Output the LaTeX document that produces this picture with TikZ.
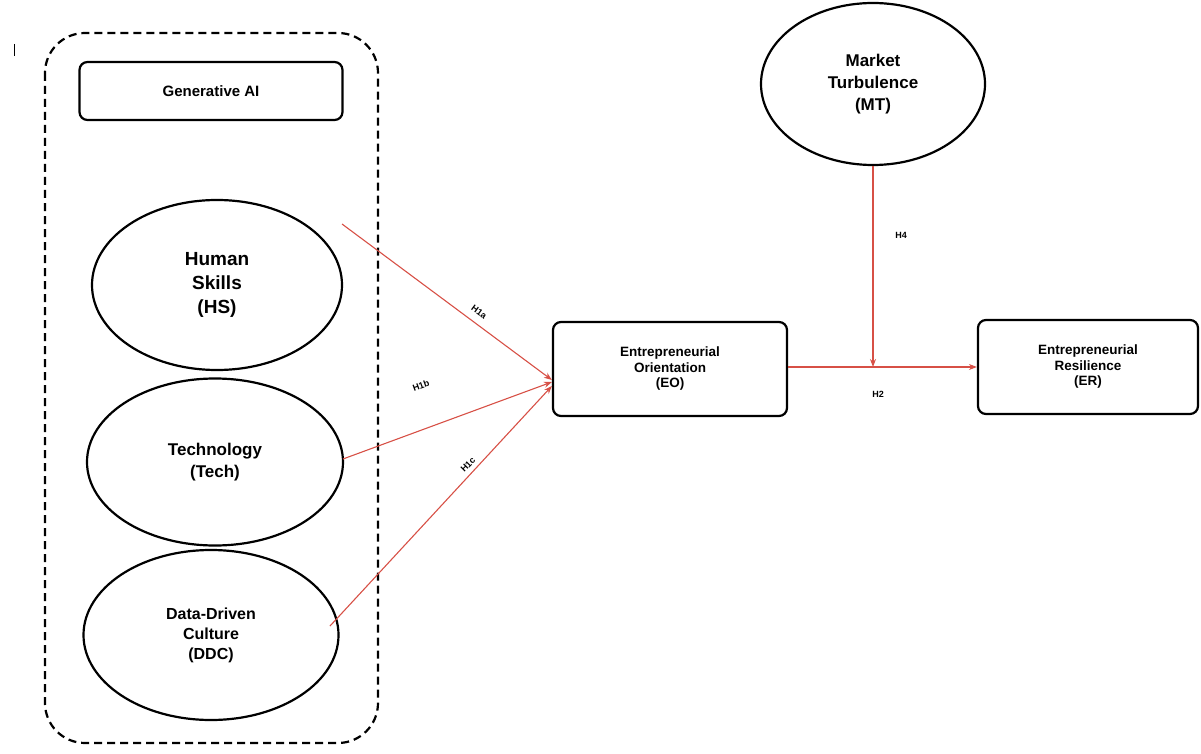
\documentclass[tikz,border=0pt]{standalone}
\usepackage{fontspec}
\setmainfont{Liberation Sans}
\usetikzlibrary{shapes.geometric,arrows.meta}
\definecolor{arr}{RGB}{215,80,70}
\begin{document}
\begin{tikzpicture}[x=1pt,y=-1pt,
  ell/.style={draw,line width=2.2pt,ellipse,align=center,font=\bfseries},
  box/.style={draw,line width=2.2pt,rounded corners=8pt,align=center,font=\bfseries\fontsize{13.5}{15.5}\selectfont},
  con/.style={draw=arr,line width=1.1pt,-{Stealth[length=8pt,width=6pt]}},
  lab/.style={font=\bfseries\fontsize{9}{10}\selectfont}]
\useasboundingbox (0,0) rectangle (1201,754);
\draw[line width=0.6pt] (14,44) -- (14,56);
\draw[line width=2.2pt,dash pattern=on 8pt off 5pt,rounded corners=40pt] (45,33) rectangle (378,743);
\node[box,minimum width=263pt,minimum height=58pt,font=\bfseries\fontsize{15}{17}\selectfont] (gai) at (211,91) {Generative AI};
\node[ell,minimum width=250pt,minimum height=170pt,font=\bfseries\fontsize{19}{24}\selectfont] (hs) at (217,285) {Human\\Skills\\ (HS)};
\node[ell,minimum width=256pt,minimum height=167pt,font=\bfseries\fontsize{17}{22}\selectfont] (tech) at (215,462) {Technology\\(Tech)};
\node[ell,minimum width=255pt,minimum height=170pt,font=\bfseries\fontsize{16}{20}\selectfont] (ddc) at (211,635) {Data-Driven\\Culture\\(DDC)};
\node[box,minimum width=234pt,minimum height=94pt] (eo) at (670,369) {Entrepreneurial\\Orientation\\(EO)};
\node[box,minimum width=220pt,minimum height=94pt] (er) at (1088,367) {Entrepreneurial\\Resilience\\(ER)};
\node[ell,minimum width=224pt,minimum height=162pt,font=\bfseries\fontsize{17}{22}\selectfont] (mt) at (873,84) {Market\\Turbulence\\(MT)};
\coordinate (j) at (873,367);
\draw[con] (342,224) -- (eo.west |- 0,380);
\draw[con] (343,459) -- (eo.west |- 0,382);
\draw[con] (330,626) -- (eo.west |- 0,386);
\draw[con] (eo.east |- 0,367) -- (er.west |- 0,367);
\draw[con] (mt.south) -- (j);
\node[lab,rotate=-36] at (479,312) {H1a};
\node[lab,rotate=20] at (421,386) {H1b};
\node[lab,rotate=45] at (468,465) {H1c};
\node[lab] at (901,235) {H4};
\node[lab] at (878,394) {H2};
\end{tikzpicture}
\end{document}
